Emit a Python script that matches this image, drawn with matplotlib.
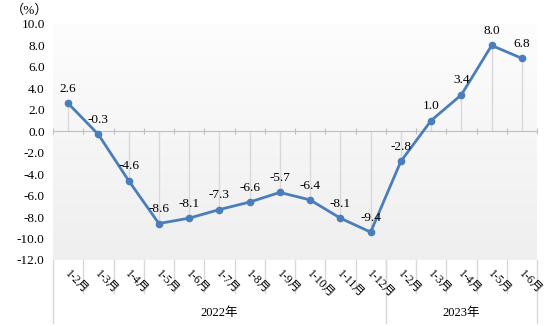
import matplotlib.pyplot as plt
import matplotlib.transforms as mtransforms
import numpy as np

# Cumulative year-on-year change (%), Jan-Feb 2022 through Jan-Jun 2023
months = ["1-2月", "1-3月", "1-4月", "1-5月", "1-6月", "1-7月", "1-8月", "1-9月",
          "1-10月", "1-11月", "1-12月", "1-2月", "1-3月", "1-4月", "1-5月", "1-6月"]
values = [2.6, -0.3, -4.6, -8.6, -8.1, -7.3, -6.6, -5.7,
          -6.4, -8.1, -9.4, -2.8, 1.0, 3.4, 8.0, 6.8]
years = ["2022年", "2023年"]
year_counts = [11, 5]
yticks = [10, 8, 6, 4, 2, 0, -2, -4, -6, -8, -10, -12]

fonts = ["Liberation Serif", "Noto Sans CJK SC"]
plt.rcParams["font.family"] = fonts

line_color = "#4a7ebb"
grid_color = "#d9d9d9"
x = np.arange(len(values))

fig = plt.figure(figsize=(5.54, 3.26), dpi=100)
ax = fig.add_axes([53 / 554, 1 - 260 / 326, 484 / 554, 236 / 326])
ax.set_xlim(-0.5, len(values) - 0.5)
ax.set_ylim(-12, 10)

# soft vertical gradient in the plot area
grad = np.linspace(0.992, 0.936, 256).reshape(-1, 1)
ax.imshow(np.dstack([grad] * 3), extent=(-0.5, len(values) - 0.5, -12, 10),
          aspect="auto", zorder=0, interpolation="bicubic")

# drop lines from the zero axis to each point
ax.vlines(x, 0, values, color=grid_color, lw=1, zorder=1)
ax.plot(x, values, color=line_color, lw=2, marker="o", ms=4.5, zorder=3)

for xi, v in zip(x, values):
    ax.annotate(f"{v:.1f}", (xi, v), xytext=(0, 6), textcoords="offset points",
                ha="center", va="bottom", fontsize=9.5, zorder=4)

# zero axis with category-boundary ticks
for s in ["top", "right", "left"]:
    ax.spines[s].set_visible(False)
ax.spines["bottom"].set_position(("data", 0))
ax.spines["bottom"].set_color("#bfbfbf")
ax.set_xticks(np.arange(-0.5, len(values), 1))
ax.set_xticklabels([])
ax.tick_params(axis="x", direction="inout", length=5, color="#bfbfbf")

ax.set_yticks(yticks)
ax.set_yticklabels([f"{t:.1f}" for t in yticks], fontsize=9.5)
ax.tick_params(axis="y", length=0, pad=6)

ax.text(-0.01, 1.03, "（%）", transform=ax.transAxes, ha="right", va="bottom",
        fontsize=9.5, family=fonts)

# two-level category axis below the plot
trans = mtransforms.blended_transform_factory(ax.transData, ax.transAxes)
px = 1 / 236
for xi, lab in zip(x, months):
    ax.annotate(lab, (xi, 0), xycoords=trans, xytext=(-4, -6),
                textcoords="offset points", rotation=-45, ha="left", va="top",
                fontsize=8.5, family=fonts, annotation_clip=False)

for b in np.arange(0.5, len(values) - 1, 1):
    ax.plot([b, b], [0, -33 * px], transform=trans, color=grid_color, lw=1,
            clip_on=False)

edges = np.concatenate([[0], np.cumsum(year_counts)]) - 0.5
for e in edges:
    ax.plot([e, e], [0, -63 * px], transform=trans, color=grid_color, lw=1,
            clip_on=False)
for lo, hi, yr in zip(edges[:-1], edges[1:], years):
    ax.text((lo + hi) / 2, -53 * px, yr, transform=trans, ha="center",
            va="center", fontsize=9, family=fonts)

fig.savefig("out.png", dpi=100)
